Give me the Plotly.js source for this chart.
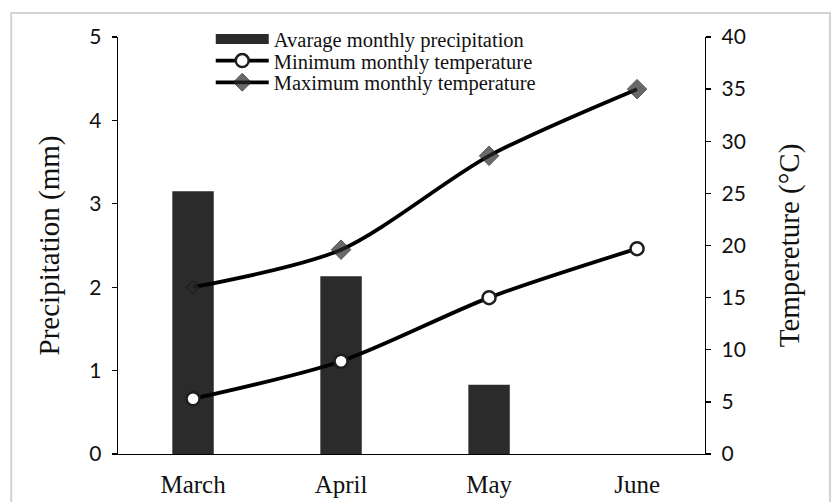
<!DOCTYPE html>
<html>
<head>
<meta charset="utf-8">
<script src="https://cdn.plot.ly/plotly-3.0.1.min.js"></script>
<style>html,body{margin:0;padding:0;background:#fff;}#chart{width:831px;height:502px;}</style>
</head>
<body>
<div id="chart"></div>
<script>
const months = ["March", "April", "May", "June"];
const precipitation = [3.15, 2.13, 0.83, 0];
const minTemp = [5.3, 8.9, 15.0, 19.7];
const maxTemp = [16.0, 19.6, 28.6, 35.0];
const precipTicks = [0, 1, 2, 3, 4, 5];
const tempTicks = [0, 5, 10, 15, 20, 25, 30, 35, 40];

const serif = "Liberation Serif, Times New Roman, serif";
const sans = "Lato, Open Sans, sans-serif";
const barColor = "#2b2b2b";

const traces = [
  {
    type: "bar", name: "Avarage monthly precipitation",
    x: months, y: precipitation, yaxis: "y", width: 0.28, showlegend: false,
    marker: {color: barColor, line: {width: 0}}
  },
  {
    // legend key for the precipitation bars (wide block, as in the reference)
    type: "scatter", mode: "lines", name: "Avarage monthly precipitation",
    x: [null], y: [null], yaxis: "y", legend: "legend",
    line: {color: barColor, width: 12}
  },
  {
    type: "scatter", mode: "lines+markers", name: "Minimum monthly temperature",
    x: months, y: minTemp, yaxis: "y2", legend: "legend2",
    line: {color: "#000", width: 3.8, shape: "spline", smoothing: 0.8},
    marker: {symbol: "circle", size: 13, color: "#fff", line: {color: "#1e1e1e", width: 2.5}}
  },
  {
    type: "scatter", mode: "lines+markers", name: "Maximum monthly temperature",
    x: months, y: maxTemp, yaxis: "y2", legend: "legend3",
    line: {color: "#000", width: 3.8, shape: "spline", smoothing: 0.8},
    marker: {symbol: "diamond", size: [10, 15, 15, 15], color: "#2a2a2a", line: {color: "#111", width: 1}}
  }
];

function legendAt(yPaper) {
  return {
    x: 0.158, y: yPaper, xanchor: "left", yanchor: "middle",
    bgcolor: "rgba(0,0,0,0)", font: {family: serif, size: 20.5, color: "#111"},
    itemwidth: 53, tracegroupgap: 0
  };
}

const layout = {
  width: 831, height: 502,
  margin: {l: 118, r: 126, t: 37, b: 48},
  paper_bgcolor: "#fff", plot_bgcolor: "rgba(0,0,0,0)",
  showlegend: true,
  legend: legendAt(0.995),
  legend2: legendAt(0.943),
  legend3: legendAt(0.891),
  xaxis: {
    type: "category", range: [-0.507, 3.459],
    showline: true, linecolor: "#000", linewidth: 1.3,
    ticks: "", showgrid: false, zeroline: false,
    tickfont: {family: serif, size: 25, color: "#111"},
    ticklabelstandoff: 8
  },
  yaxis: {
    range: [0, 5], tickvals: precipTicks,
    showline: true, linecolor: "#000", linewidth: 1.3,
    ticks: "outside", ticklen: 5, tickcolor: "#000", tickwidth: 1.3,
    showgrid: false, zeroline: false,
    tickfont: {family: sans, size: 21, color: "#111"},
    ticklabelstandoff: 6,
    title: {text: "Precipitation (mm)", font: {family: serif, size: 29, color: "#111"}, standoff: 21}
  },
  yaxis2: {
    range: [0, 40], tickvals: tempTicks, overlaying: "y", side: "right",
    showline: true, linecolor: "#000", linewidth: 1.3,
    ticks: "outside", ticklen: 5, tickcolor: "#000", tickwidth: 1.3,
    showgrid: false, zeroline: false,
    tickfont: {family: sans, size: 21, color: "#111"},
    ticklabelstandoff: 6,
    title: {text: "Tempereture (°C)", font: {family: serif, size: 29, color: "#111"}, standoff: 33}
  },
  shapes: [
    {type: "rect", xref: "paper", yref: "paper",
     x0: -0.182, x1: 1.213, y0: -0.2, y1: 1.0576,
     line: {color: "#d3d3d3", width: 2}, fillcolor: "rgba(0,0,0,0)", layer: "below"}
  ]
};

Plotly.newPlot("chart", traces, layout, {displayModeBar: false, staticPlot: true});
</script>
</body>
</html>
